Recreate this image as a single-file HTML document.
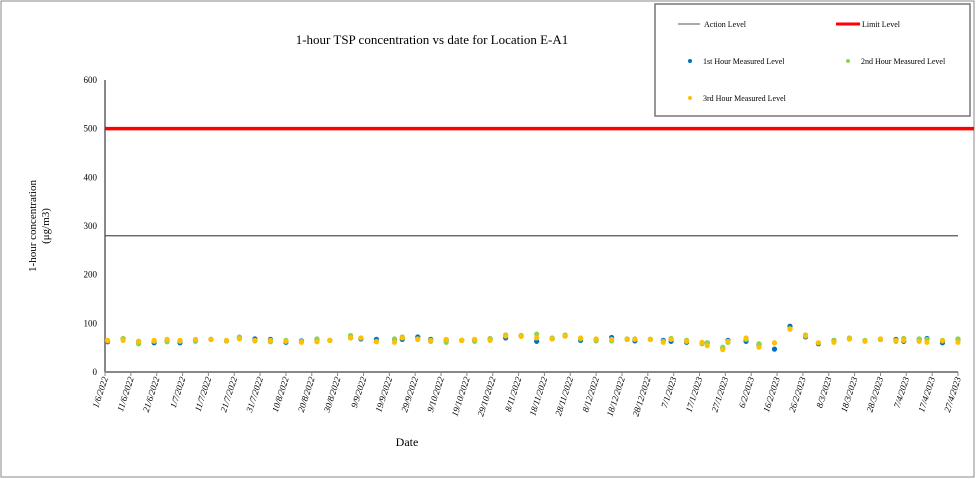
<!DOCTYPE html>
<html><head><meta charset="utf-8"><style>
body{margin:0;background:#fff}
svg{display:block;font-family:"Liberation Serif",serif}
</style></head><body>
<svg id="chart" width="976" height="479" viewBox="0 0 976 479">
<rect x="1" y="1" width="973" height="476" fill="#fff" stroke="#888" stroke-width="1"/>
<text x="432" y="44" text-anchor="middle" font-size="13">1-hour TSP concentration vs date for Location E-A1</text>
<text transform="translate(36,226) rotate(-90)" text-anchor="middle" font-size="11"><tspan x="0" dy="0">1-hour concentration</tspan><tspan x="0" dy="13">(μg/m3)</tspan></text>
<text x="407" y="446" text-anchor="middle" font-size="12">Date</text>
<g id="axes"></g>
<g id="marks"></g>
<g>
<rect x="655" y="4" width="315" height="112" fill="#fff" stroke="#777" stroke-width="1.5"/>
<line x1="678" y1="24" x2="700" y2="24" stroke="#555" stroke-width="1"/>
<text x="704" y="27" font-size="8">Action Level</text>
<line x1="836" y1="24" x2="860" y2="24" stroke="#f00" stroke-width="3"/>
<text x="862" y="27" font-size="8">Limit Level</text>
<circle cx="690" cy="61" r="2" fill="#0070c0"/>
<text x="703" y="64" font-size="8">1st Hour Measured Level</text>
<circle cx="848" cy="61" r="2" fill="#92d050"/>
<text x="861" y="64" font-size="8">2nd Hour Measured Level</text>
<circle cx="690" cy="98" r="2" fill="#ffc000"/>
<text x="703" y="101" font-size="8">3rd Hour Measured Level</text>
</g>
</svg>
<script>
const dayOffsets=[1,7,13,19,24,29,35,41,47,52,58,64,70,76,82,87,95,99,105,112,115,121,126,132,138,143,149,155,161,167,173,178,184,190,196,202,205,211,216,219,225,231,233,239,241,248,253,259,265,271,276,282,288,294,300,306,309,315,318,324,330];
const hour1=[62,68,63,60,65,60,65,67,64,70,68,67,61,64,67,65,70,68,67,67,67,72,67,65,65,65,68,70,74,63,68,74,65,67,71,67,64,67,65,63,61,60,60,49,65,63,56,47,94,72,58,65,68,64,67,67,63,67,69,60,67];
const hour2=[64,69,58,63,62,63,63,67,64,72,64,62,65,63,68,65,75,70,63,68,72,67,63,61,65,63,69,76,75,78,70,76,68,64,64,68,68,67,63,69,65,58,60,51,61,67,58,60,88,76,60,65,70,65,67,63,69,68,67,65,68];
const hour3=[65,65,63,65,67,65,67,67,65,68,65,65,63,61,62,65,70,70,62,61,70,68,65,67,65,67,65,74,73,70,68,74,70,68,67,67,67,67,61,67,63,61,54,46,63,70,51,60,89,74,60,61,68,63,68,65,65,63,61,64,61];
const yTicks=[0,100,200,300,400,500,600];
const xTickLabels=["1/6/2022","11/6/2022","21/6/2022","1/7/2022","11/7/2022","21/7/2022","31/7/2022","10/8/2022","20/8/2022","30/8/2022","9/9/2022","19/9/2022","29/9/2022","9/10/2022","19/10/2022","29/10/2022","8/11/2022","18/11/2022","28/11/2022","8/12/2022","18/12/2022","28/12/2022","7/1/2023","17/1/2023","27/1/2023","6/2/2023","16/2/2023","26/2/2023","8/3/2023","18/3/2023","28/3/2023","7/4/2023","17/4/2023","27/4/2023"];
const actionLevel=280, limitLevel=500;
const NS="http://www.w3.org/2000/svg";
const X0=105,X1=958,Y0=372,Y1=80,DMAX=330,VMAX=600;
const xs=d=>X0+(X1-X0)*d/DMAX;
const ys=v=>Y0-(Y0-Y1)*v/VMAX;
const axes=document.getElementById('axes'),marks=document.getElementById('marks');
function mk(tag,attrs,parent){const e=document.createElementNS(NS,tag);for(const k in attrs)e.setAttribute(k,attrs[k]);parent.appendChild(e);return e;}
let e=mk('line',{x1:X0,y1:Y1,x2:X0,y2:Y0,stroke:'#888','stroke-width':2},axes);


e=mk('line',{x1:X0,y1:Y0,x2:X1,y2:Y0,stroke:'#888','stroke-width':2},axes);


yTicks.forEach(v=>{const t=mk('text',{x:X0-8,y:ys(v)+3,'text-anchor':'end','font-size':9},axes);t.textContent=v;

});
xTickLabels.forEach((lab,i)=>{const x=xs(i*10);
const tk=mk('line',{x1:x,y1:Y0,x2:x,y2:Y0+4,stroke:'#888','stroke-width':1},axes);


const t=mk('text',{transform:`translate(${x+3},${Y0+6}) rotate(-72)`,'text-anchor':'end','font-size':9,'font-style':'italic'},axes);t.textContent=lab;

});
e=mk('line',{x1:X0,y1:ys(actionLevel),x2:X1,y2:ys(actionLevel),stroke:'#555','stroke-width':1.2},marks);


e=mk('line',{x1:X0,y1:ys(limitLevel),x2:974,y2:ys(limitLevel),stroke:'#f00','stroke-width':3.5},marks);


[[hour1,'#0070c0','point-1st-hour'],[hour2,'#92d050','point-2nd-hour'],[hour3,'#ffc000','point-3rd-hour']].forEach(([arr,c,n])=>{
arr.forEach((v,i)=>{const p=mk('circle',{cx:xs(dayOffsets[i]),cy:ys(v),r:2.6,fill:c},marks);

});});
</script>
</body></html>
